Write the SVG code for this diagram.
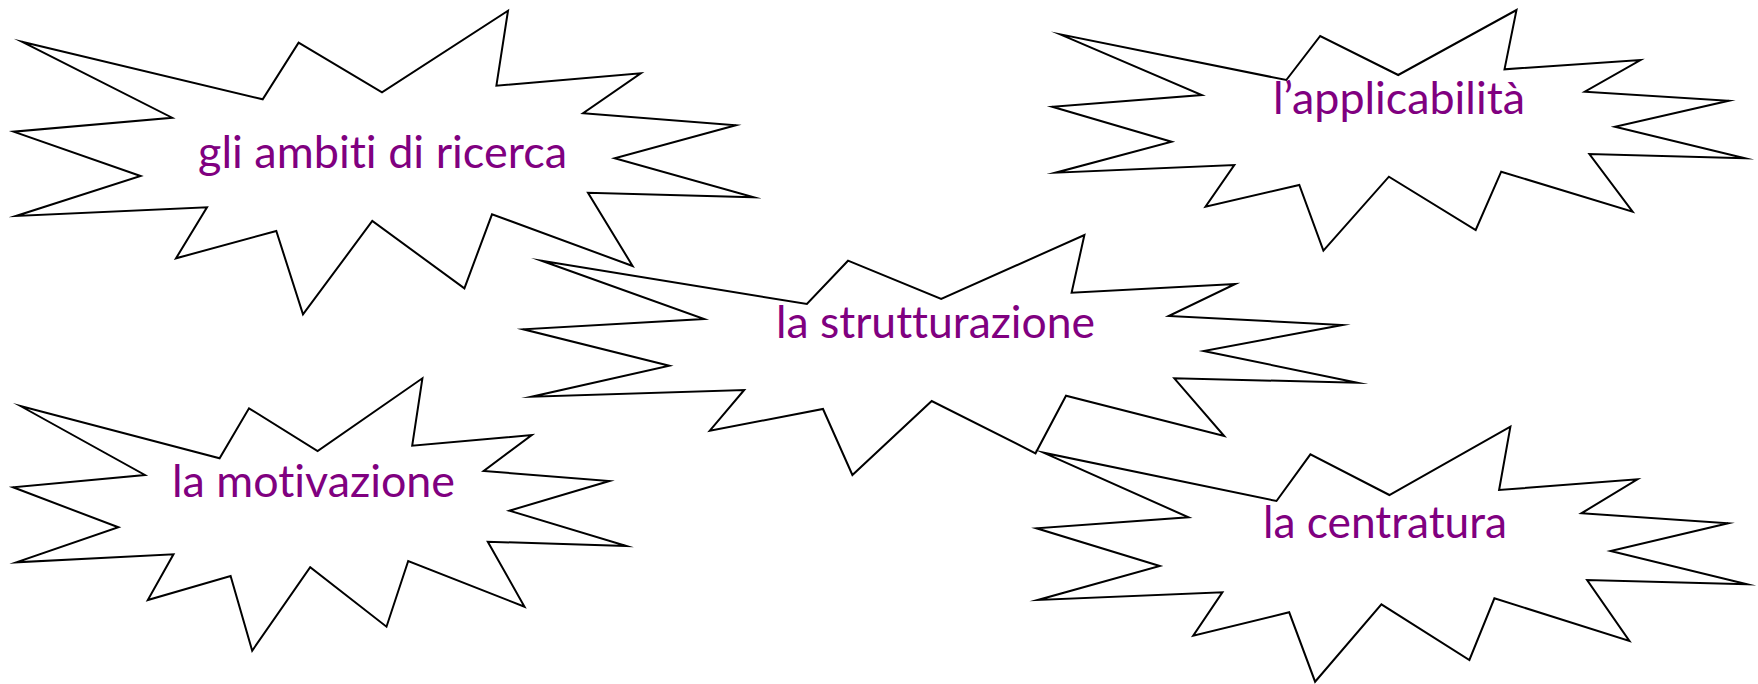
<svg xmlns="http://www.w3.org/2000/svg" width="1758" height="684" viewBox="0 0 1758 684">
<style>
.star{fill:#ffffff;stroke:#000000;stroke-width:2;stroke-linejoin:miter;stroke-miterlimit:20}
.lbl{font-family:Lato,"Open Sans","Liberation Sans",sans-serif;font-size:45px;fill:#800080;font-variant-ligatures:none;font-feature-settings:"liga" 0,"clig" 0}
</style>
<rect width="1758" height="684" fill="#ffffff"/>
<g id="node-ambiti">
<polygon class="star" points="21.8,41.7 172.1,117.7 13.6,131.7 140.6,176 16,216 207,207.3 176,258.3 276.3,231 303,314.3 372.3,221 464.4,288.3 492,214.3 632.6,266 588,192.7 753.8,197.3 614.7,158.3 735.8,125.3 583.1,113.3 640.8,73.3 496.4,85.7 508,10.7 382,92.3 298.6,42.7 262.7,99.3"/>
<text class="lbl" x="198" y="168" textLength="369" lengthAdjust="spacingAndGlyphs">gli ambiti di ricerca</text>
</g>
<g id="node-applicabilita">
<polygon class="star" points="1060.2,34.3 1201.8,95 1052.3,106.7 1171.6,141.7 1055.5,172.7 1234.3,165 1205.5,206.7 1299.3,185 1323.4,250.7 1388.9,176.7 1475.7,230 1501.2,171.7 1632.6,211.7 1589.4,154 1745,158.3 1615,126.7 1728.7,100.7 1584.8,91.7 1640.5,60 1504.5,69.3 1516.5,10 1398.2,75 1320.2,36 1286.3,80"/>
<text class="lbl" x="1273" y="114" textLength="252" lengthAdjust="spacingAndGlyphs">l’applicabilità</text>
</g>
<g id="node-strutturazione">
<polygon class="star" points="541.6,260.7 704.2,319 523.3,329.3 669.3,365.7 531.6,396.7 744.2,390 709.8,430.7 823,409 852.4,475 931.7,401 1035.5,453.3 1066,395.7 1224.2,436 1174.3,378.3 1357.4,382.7 1203.7,351 1342.4,325 1168.7,316 1235.3,284 1071.6,292.7 1084.4,235 941.2,299 848,260.7 806.9,304"/>
<text class="lbl" x="776" y="338" textLength="319" lengthAdjust="spacingAndGlyphs">la strutturazione</text>
</g>
<g id="node-motivazione">
<polygon class="star" points="20.4,406 144.9,475 13.1,487.3 118.4,527.3 16.3,562.3 173.5,554.3 147.8,600 230.6,576 252.2,650.7 310.2,567.3 386.5,626.7 408.2,561 524.5,606.7 487.8,541.7 626.5,546 509.4,510.7 609.4,481 483.7,471 531.8,435 412.2,445.7 422.4,378.3 317.6,451 249,408.3 219.6,458.3"/>
<text class="lbl" x="172" y="497" textLength="283" lengthAdjust="spacingAndGlyphs">la motivazione</text>
</g>
<g id="node-centratura">
<polygon class="star" points="1043.5,452.7 1188.5,517.3 1036.5,528.3 1159.8,566 1037.9,600 1222.4,592.3 1193.2,635.7 1289.2,612.3 1315.1,681.7 1381.4,604.3 1469.4,660 1494.4,598.3 1629.4,641 1587.1,580 1747.1,584.3 1610.6,551 1728.2,523.3 1581.4,513.3 1637.4,479.3 1499.1,490 1510.4,426.7 1389.4,495 1310.4,454.3 1276.5,501"/>
<text class="lbl" x="1263" y="538" textLength="244" lengthAdjust="spacingAndGlyphs">la centratura</text>
</g>
<g id="connectors"/>
</svg>
